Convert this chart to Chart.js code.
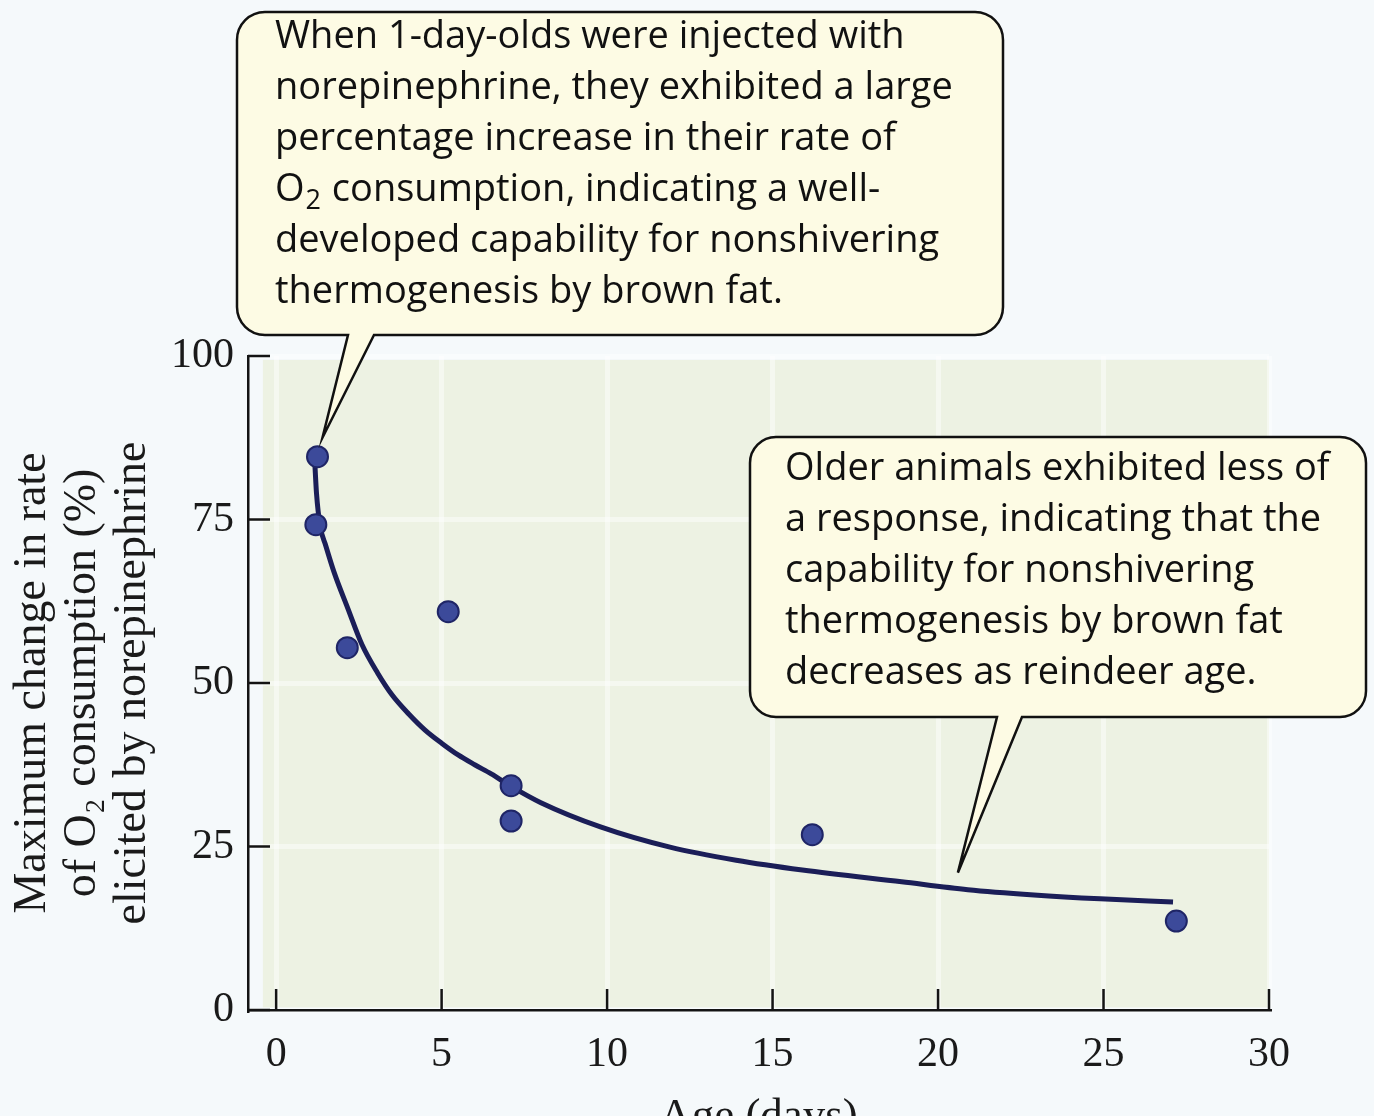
<!DOCTYPE html>
<html>
<head>
<meta charset="utf-8">
<title>Norepinephrine response by age</title>
<script src="https://cdn.jsdelivr.net/npm/chart.js@4.4.1/dist/chart.umd.min.js"></script>
<style>
  html, body { margin: 0; padding: 0; background: #f5f9fb; }
  #wrap { width: 1374px; height: 1116px; }
</style>
</head>
<body>
<div id="wrap"><canvas id="chartReindeer" width="1374" height="1116"></canvas></div>
<script>
// measured animals
var ageDays = [1.25, 1.2, 2.15, 5.2, 7.1, 7.1, 16.2, 27.2];
var responsePct = [84.6, 74.2, 55.4, 60.9, 34.3, 28.9, 26.8, 13.6];

// fitted trend line
var curveAge = [1.17, 1.22, 1.33, 1.5, 1.76, 2.16, 2.6, 3.07, 3.5, 4.0, 4.5, 5.0, 5.5, 6.0, 6.5, 7.1, 8.0, 9.8, 11.9, 13.9, 15.9, 18.9, 20.9, 22.9, 24.9, 27.1];
var curveResp = [83.5, 79, 74, 71, 66.8, 61.5, 55.8, 51.5, 48.2, 45.3, 42.8, 40.8, 39.0, 37.5, 36.1, 34.2, 31.7, 28, 24.9, 22.9, 21.4, 19.6, 18.4, 17.6, 17.0, 16.5];

var xTicks = [0, 5, 10, 15, 20, 25, 30];
var yTicks = [0, 25, 50, 75, 100];

var noteYoung = [
  'When 1-day-olds were injected with',
  'norepinephrine, they exhibited a large',
  'percentage increase in their rate of',
  'O_2 consumption, indicating a well-',
  'developed capability for nonshivering',
  'thermogenesis by brown fat.'
];
var noteOld = [
  'Older animals exhibited less of',
  'a response, indicating that the',
  'capability for nonshivering',
  'thermogenesis by brown fat',
  'decreases as reindeer age.'
];

var serif = "'Liberation Serif', 'Times New Roman', serif";
var sans = "'Open Sans', 'Noto Sans', sans-serif";

function toPoints(xs, ys) {
  return xs.map(function (x, i) { return { x: x, y: ys[i] }; });
}

// shaded plotting panel drawn behind the grid
var panelPlugin = {
  id: 'panel',
  beforeDraw: function (chart) {
    var ctx = chart.ctx, x = chart.scales.x, y = chart.scales.y;
    ctx.save();
    ctx.fillStyle = '#f5f9fb';
    ctx.fillRect(0, 0, chart.width, chart.height);
    var l = x.getPixelForValue(-0.4), r = x.getPixelForValue(30);
    var t = y.getPixelForValue(99.4), b = y.getPixelForValue(0.4);
    ctx.fillStyle = '#edf2e3';
    ctx.fillRect(l, t, r - l, b - t);
    ctx.restore();
  }
};

// tick marks point into the plot
var innerTicks = {
  id: 'innerTicks',
  afterDatasetsDraw: function (chart) {
    var ctx = chart.ctx, x = chart.scales.x, y = chart.scales.y, a = chart.chartArea;
    ctx.save();
    ctx.strokeStyle = '#141414';
    ctx.lineWidth = 2.5;
    ctx.beginPath();
    xTicks.forEach(function (v) {
      var px = x.getPixelForValue(v);
      ctx.moveTo(px, a.bottom);
      ctx.lineTo(px, a.bottom - 21);
    });
    yTicks.forEach(function (v) {
      var py = y.getPixelForValue(v);
      ctx.moveTo(a.left, py);
      ctx.lineTo(a.left + 22, py);
    });
    ctx.stroke();
    ctx.restore();
  }
};

function drawLine(ctx, text, x, y, size) {
  // "O_2" marks a subscript 2
  var parts = text.split('_');
  ctx.font = size + 'px ' + sans;
  ctx.fillText(parts[0], x, y);
  if (parts.length > 1) {
    var w = ctx.measureText(parts[0]).width;
    ctx.font = Math.round(size * 0.7) + 'px ' + sans;
    ctx.fillText(parts[1].charAt(0), x + w + 1, y + size * 0.2);
    var w2 = ctx.measureText(parts[1].charAt(0)).width;
    ctx.font = size + 'px ' + sans;
    ctx.fillText(parts[1].slice(1), x + w + w2 + 2, y);
  }
}

function bubble(ctx, box, tip) {
  var x = box.x, y = box.y, w = box.w, h = box.h, r = box.r;
  ctx.beginPath();
  ctx.moveTo(x + r, y);
  ctx.lineTo(x + w - r, y);
  ctx.arcTo(x + w, y, x + w, y + r, r);
  ctx.lineTo(x + w, y + h - r);
  ctx.arcTo(x + w, y + h, x + w - r, y + h, r);
  ctx.lineTo(box.tail2, y + h);
  ctx.lineTo(tip.x, tip.y);
  ctx.lineTo(box.tail1, y + h);
  ctx.lineTo(x + r, y + h);
  ctx.arcTo(x, y + h, x, y + h - r, r);
  ctx.lineTo(x, y + r);
  ctx.arcTo(x, y, x + r, y, r);
  ctx.closePath();
  ctx.fillStyle = '#fdfbe4';
  ctx.fill();
  ctx.lineWidth = 2.5;
  ctx.strokeStyle = '#111';
  ctx.stroke();
}

var calloutPlugin = {
  id: 'callouts',
  afterDraw: function (chart) {
    var ctx = chart.ctx, xs = chart.scales.x, ys = chart.scales.y;
    var notes = [
      { lines: noteYoung, box: { x: 237, y: 12, w: 766, h: 323, r: 28, tail1: 348, tail2: 374 },
        tip: { x: 1.4, y: 87.5 }, tx: 275, ty: 48 },
      { lines: noteOld, box: { x: 750, y: 437, w: 616, h: 280, r: 26, tail1: 997, tail2: 1022 },
        tip: { x: 20.6, y: 21 }, tx: 785, ty: 480 }
    ];
    ctx.save();
    notes.forEach(function (n) {
      bubble(ctx, n.box, { x: xs.getPixelForValue(n.tip.x), y: ys.getPixelForValue(n.tip.y) });
      ctx.fillStyle = '#111';
      ctx.textBaseline = 'alphabetic';
      ctx.textAlign = 'left';
      n.lines.forEach(function (line, i) {
        drawLine(ctx, line, n.tx, n.ty + i * 51, 38);
      });
    });
    ctx.restore();
  }
};

var ctx = document.getElementById('chartReindeer').getContext('2d');
var chart = new Chart(ctx, {
  type: 'scatter',
  data: {
    datasets: [{
      label: 'Animals',
      data: toPoints(ageDays, responsePct),
      backgroundColor: '#3c4a9a',
      borderColor: '#1f2566',
      borderWidth: 2,
      pointRadius: 10.5,
      order: 0
    }, {
      label: 'Trend',
      data: toPoints(curveAge, curveResp),
      showLine: true,
      pointRadius: 0,
      borderColor: '#1b1e58',
      borderWidth: 5,
      cubicInterpolationMode: 'monotone',
      order: 1
    }]
  },
  options: {
    responsive: false,
    animation: false,
    layout: { padding: { top: 356, right: 105, left: 0, bottom: 0 } },
    plugins: {
      legend: { display: false },
      tooltip: { enabled: false }
    },
    scales: {
      x: {
        type: 'linear',
        min: -0.85,
        max: 30,
        afterBuildTicks: function (s) { s.ticks = xTicks.map(function (v) { return { value: v }; }); },
        afterFit: function (s) { s.height = 106; },
        grid: { color: 'rgba(255,255,255,0.45)', lineWidth: 5, drawTicks: false },
        border: { display: true, color: '#141414', width: 2.5 },
        ticks: { color: '#1a1a1a', padding: 20, maxRotation: 0, font: { family: serif, size: 42 } },
        title: {
          display: true, text: 'Age (days)', color: '#1a1a1a',
          font: { family: serif, size: 45 }, padding: { top: 0, bottom: -28 }
        }
      },
      y: {
        min: 0,
        max: 100,
        afterBuildTicks: function (s) { s.ticks = yTicks.map(function (v) { return { value: v }; }); },
        afterFit: function (s) { s.width = 248; },
        grid: { color: 'rgba(255,255,255,0.45)', lineWidth: 5, drawTicks: false },
        border: { display: true, color: '#141414', width: 2.5 },
        ticks: { color: '#1a1a1a', padding: 14, font: { family: serif, size: 42 } },
        title: {
          display: true,
          text: ['Maximum change in rate', 'of O\u2082 consumption (%)', 'elicited by norepinephrine'],
          color: '#1a1a1a',
          font: { family: serif, size: 46, lineHeight: 1.09 },
          padding: { top: 8, bottom: 0 }
        }
      }
    }
  },
  plugins: [panelPlugin, innerTicks, calloutPlugin]
});
</script>
</body>
</html>
